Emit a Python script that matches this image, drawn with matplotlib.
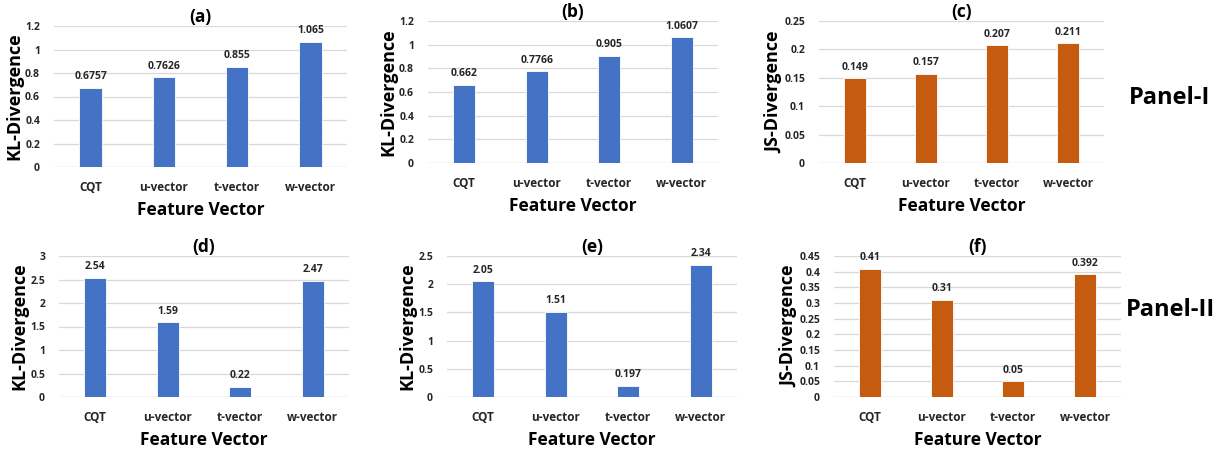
import matplotlib
matplotlib.use("Agg")
import matplotlib.pyplot as plt

plt.rcParams['font.family'] = ['Open Sans', 'DejaVu Sans']

BLUE = '#4472C4'
ORANGE = '#C55A11'
GRID = '#D9D9D9'

features = ['CQT', 'u-vector', 't-vector', 'w-vector']

vals_a = [0.6757, 0.7626, 0.855, 1.065]
vals_b = [0.662, 0.7766, 0.905, 1.0607]
vals_c = [0.149, 0.157, 0.207, 0.211]
vals_d = [2.54, 1.59, 0.22, 2.47]
vals_e = [2.05, 1.51, 0.197, 2.34]
vals_f = [0.41, 0.31, 0.05, 0.392]

labels_a = ['0.6757', '0.7626', '0.855', '1.065']
labels_b = ['0.662', '0.7766', '0.905', '1.0607']
labels_c = ['0.149', '0.157', '0.207', '0.211']
labels_d = ['2.54', '1.59', '0.22', '2.47']
labels_e = ['2.05', '1.51', '0.197', '2.34']
labels_f = ['0.41', '0.31', '0.05', '0.392']

W, H = 1225, 453
fig = plt.figure(figsize=(W / 100, H / 100), dpi=100)


def px_axes(left, top, right, bottom):
    return fig.add_axes([left / W, 1 - bottom / H, (right - left) / W, (bottom - top) / H])


def fmt(v):
    s = ('%.2f' % v).rstrip('0').rstrip('.')
    return s if s else '0'


def draw_panel(box, vals, labels, color, ymax, step, ylabel, title):
    ax = px_axes(*box)
    x = range(len(features))
    ax.bar(x, vals, width=0.31, color=color, edgecolor='white', linewidth=0.6, zorder=3)
    ticks = [round(i * step, 4) for i in range(int(round(ymax / step)) + 1)]
    ax.set_ylim(0, ymax)
    ax.set_xlim(-0.5, len(features) - 0.5)
    ax.set_yticks(ticks)
    ax.set_yticklabels([fmt(t) for t in ticks])
    ax.set_xticks(list(x))
    ax.set_xticklabels(features)
    ax.grid(axis='y', color=GRID, linewidth=0.9, zorder=0)
    for s in ax.spines.values():
        s.set_visible(False)
    ax.axhline(0, color=GRID, linewidth=0.9, zorder=1)
    ax.tick_params(length=0)
    ax.tick_params(axis='y', pad=10, labelsize=7.5)
    ax.tick_params(axis='x', pad=10, labelsize=8.5)
    for lbl in ax.get_xticklabels() + ax.get_yticklabels():
        lbl.set_fontweight('bold')
        lbl.set_color('#262626')
    for xi, v, t in zip(x, vals, labels):
        ax.annotate(t, (xi, v), xytext=(0, 4), textcoords='offset points',
                    ha='center', va='bottom', fontsize=7.5, fontweight='bold', color='#262626')
    ax.set_ylabel(ylabel, fontsize=13, fontweight='bold', labelpad=1)
    ax.set_xlabel('Feature Vector', fontsize=12.5, fontweight='bold', labelpad=5)
    ax.set_title(title, fontsize=12.5, fontweight='bold', pad=1)
    return ax


draw_panel((54, 26, 347, 167), vals_a, labels_a, BLUE, 1.2, 0.2, 'KL-Divergence', '(a)')
draw_panel((428, 21, 718, 163), vals_b, labels_b, BLUE, 1.2, 0.2, 'KL-Divergence', '(b)')
draw_panel((819, 21, 1104, 163), vals_c, labels_c, ORANGE, 0.25, 0.05, 'JS-Divergence', '(c)')
draw_panel((59, 256, 349, 397), vals_d, labels_d, BLUE, 3, 0.5, 'KL-Divergence', '(d)')
draw_panel((447, 256, 737, 397), vals_e, labels_e, BLUE, 2.5, 0.5, 'KL-Divergence', '(e)')
draw_panel((834, 256, 1121, 397), vals_f, labels_f, ORANGE, 0.45, 0.05, 'JS-Divergence', '(f)')

fig.text(1170 / W, 1 - 98 / H, 'Panel-I', ha='center', va='center', fontsize=17, fontweight='bold')
fig.text(1170 / W, 1 - 310 / H, 'Panel-II', ha='center', va='center', fontsize=17, fontweight='bold')

fig.savefig('out.png', dpi=100, facecolor='white')
